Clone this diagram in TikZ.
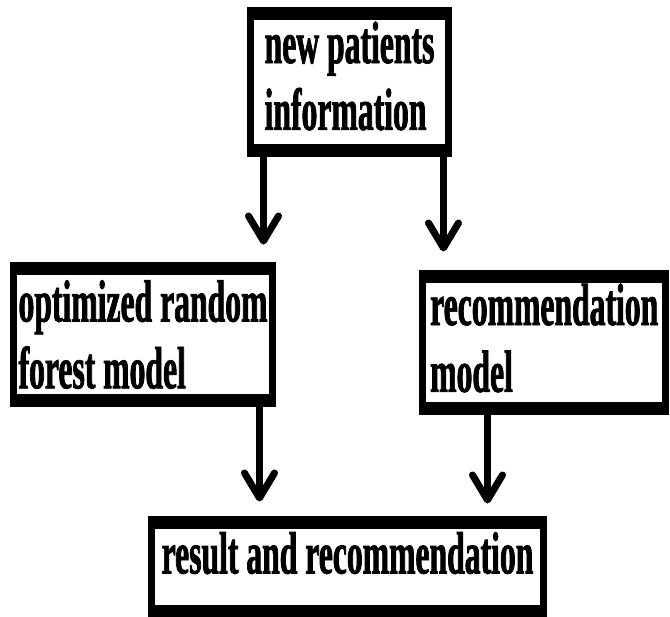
\documentclass[tikz,border=0pt]{standalone}
\usepackage{fontspec}
\usetikzlibrary{arrows.meta}
\newfontfamily\boxfont{Liberation Serif}[FakeStretch=0.53, FakeBold=1.2]

\begin{document}
\begin{tikzpicture}[x=0.02cm, y=-0.02cm,
    box/.style={draw, line width=4pt, align=left, inner sep=0pt,
      font=\boxfont\bfseries\fontsize{34}{38}\selectfont,
      path picture={
        \fill (path picture bounding box.north west) rectangle ([yshift=-5.4pt]path picture bounding box.north east);
        \fill (path picture bounding box.south west) rectangle ([yshift=5.4pt]path picture bounding box.south east);}},
    arr/.style={line width=4pt, -{Straight Barb[length=0.5cm,width=0.6cm,round]}}]
  \useasboundingbox (0,0) rectangle (670,616);

  % boxes
  \node[box, minimum width=3.96cm, minimum height=2.86cm, text depth=0.25cm] (newinfo) at (349.5,82) {new patients\\information};
  \node[box, minimum width=5.18cm, minimum height=2.76cm] (rfmodel) at (143,334.5) {optimized random\\forest model};
  \node[box, minimum width=4.87cm, minimum height=2.76cm, text depth=0.19cm] (recmodel) at (544.25,342.5) {recommendation\\model};
  \node[box, minimum width=7.84cm, minimum height=1.89cm, text depth=0.56cm] (result) at (347.5,566.75) {result and recommendation};

  % arrows
  \draw[arr, shorten >=0.35cm] ([xshift=0.33cm]newinfo.south west) coordinate (a1) -- (a1 |- rfmodel.north);
  \draw[arr, shorten >=0.37cm] ([xshift=-0.17cm]newinfo.south east) coordinate (a2) -- (a2 |- recmodel.north);
  \draw[arr, shorten >=0.29cm] ([xshift=-0.33cm]rfmodel.south east) coordinate (a3) -- (a3 |- result.north);
  \draw[arr, shorten >=0.25cm] ([xshift=1.37cm]recmodel.south west) coordinate (a4) -- (a4 |- result.north);
\end{tikzpicture}
\end{document}
